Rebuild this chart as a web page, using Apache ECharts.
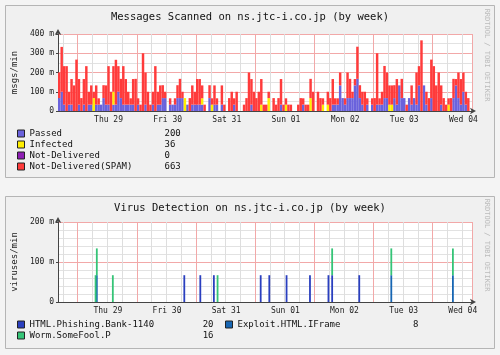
<!DOCTYPE html>
<html>
<head>
<meta charset="utf-8">
<script src="https://cdn.jsdelivr.net/npm/echarts@6/dist/echarts.min.js"></script>
<style>
html, body { margin: 0; padding: 0; background: #f4f4f4; }
#main { width: 500px; height: 355px; }
</style>
</head>
<body>
<div id="main"></div>
<script>
var dayNames = ['Wed 28', 'Thu 29', 'Fri 30', 'Sat 31', 'Sun 01', 'Mon 02', 'Tue 03', 'Wed 04'];
var startHour = 16; // graph starts Wed 28 16:00

// messages scanned, milli msgs/min, one value per hour
var passed = [
  67,100,33,0,33,33,0,0,33,0,  33,0,33,33,0,33,33,33,67,33,
  33,0,33,33,100,67,33,33,33,33,  33,0,33,0,0,33,0,0,33,0,
  33,33,67,67,0,33,33,33,67,67,  67,0,33,0,33,33,33,33,33,0,
  0,67,0,33,33,0,33,0,0,0,  0,33,0,0,0,0,0,0,33,0,
  0,0,0,0,0,0,0,0,0,0,  33,0,0,0,0,0,0,0,0,33,
  0,0,0,0,0,0,0,0,0,0,  0,33,33,33,133,67,33,67,67,67,
  133,167,67,33,0,33,0,33,0,33,  33,33,67,67,0,0,67,33,133,67,
  67,0,67,33,67,33,133,0,133,33,  0,67,0,0,0,33,0,0,0,0,
  67,133,67,33,100,33,0,0
];
var infected = [
  0,0,0,0,0,0,0,0,0,0,  0,0,0,0,67,0,0,0,0,0,
  0,0,67,0,0,0,0,0,0,0,  0,0,0,0,0,0,0,0,0,0,
  0,0,0,0,0,0,0,0,0,0,  0,67,0,0,0,0,0,0,33,0,
  0,0,33,0,0,0,0,0,0,0,  0,0,0,0,0,0,0,0,0,0,
  0,0,33,0,0,67,0,0,0,0,  0,0,33,0,0,0,0,0,0,0,
  0,0,67,0,0,0,0,33,0,33,  0,0,0,0,0,0,0,0,0,0,
  0,0,0,0,0,0,0,0,0,0,  0,0,0,0,33,33,0,0,0,0,
  0,0,0,0,0,0,0,0,0,0,  0,0,0,0,0,0,0,0,33,0,
  0,0,0,0,0,0,0,0
];
var notDelivered = [];
var spam = [
  133,233,200,233,67,133,133,267,133,67,  133,233,67,100,33,100,33,0,67,100,
  200,100,133,233,133,100,200,133,67,33,  133,167,33,33,300,167,100,33,67,233,
  67,100,67,33,0,33,0,33,67,100,  33,0,0,67,100,67,133,133,67,33,
  0,67,33,100,33,0,100,33,0,67,  100,33,100,0,0,33,67,200,133,100,
  67,100,133,33,33,33,0,67,33,67,  133,33,33,33,33,0,0,33,67,33,
  33,33,100,100,0,100,67,33,0,67,  67,133,33,33,67,0,33,133,100,33,
  33,167,67,67,100,33,0,33,67,267,  33,67,167,133,100,100,67,133,0,100,
  0,33,0,100,0,167,100,367,0,67,  67,200,233,133,200,100,67,33,33,67,
  100,33,133,133,100,67,67,0
];
var mailNames = ['Passed', 'Infected', 'Not-Delivered', 'Not-Delivered(SPAM)'];
var mailTotals = [200, 36, 0, 663];

// virus detections, milli viruses/min, [half-hour slot, value]
var phishing = [[102,67],[115,67],[126,67],[164,67],[171,67],[185,67],[204,67],[219,67],[222,67],[244,67]];
var exploit = [[31,67],[270,67],[320,67]];
var worm = [[30,67],[31,67],[44,67],[129,67],[222,67],[270,67],[320,67]];
var virusNames = ['HTML.Phishing.Bank-1140', 'Exploit.HTML.IFrame', 'Worm.SomeFool.P'];
var virusTotals = [20, 8, 16];

var mono = 'DejaVu Sans Mono';

// category labels "day|hour|minute"
var hourCats = [];
for (var i = 0; i < 168; i++) {
  var h = startHour + i;
  hourCats.push(dayNames[Math.floor(h / 24)] + '|' + (h % 24) + '|0');
}
var slotCats = [];
for (var j = 0; j < 336; j++) {
  var m = startHour * 60 + j * 30;
  slotCats.push(dayNames[Math.floor(m / 1440)] + '|' + (Math.floor(m / 60) % 24) + '|' + (m % 60));
}
function part(v, k) { return v.split('|')[k]; }
function expand(events) {
  var a = slotCats.map(function () { return 0; });
  events.forEach(function (e) { a[e[0]] = e[1]; });
  return a;
}

function xAxes(gridIndex, cats) {
  return [{
    type: 'category', gridIndex: gridIndex, data: cats,
    axisLine: { lineStyle: { color: '#444' }, symbol: ['none', 'arrow'], symbolSize: [5, 6], symbolOffset: [0, 4] },
    axisTick: { show: false },
    axisLabel: {
      interval: function (idx, v) { return part(v, 1) === '12' && part(v, 2) === '0'; },
      formatter: function (v) { return part(v, 0); },
      fontFamily: mono, fontSize: 8, color: '#222', margin: 5
    },
    splitLine: {
      show: true,
      interval: function (idx, v) { return +part(v, 1) % 6 === 0 && part(v, 2) === '0'; },
      lineStyle: { color: '#dedede' }
    }
  }, {
    type: 'category', gridIndex: gridIndex, data: cats,
    axisLine: { show: false }, axisTick: { show: false }, axisLabel: { show: false },
    splitLine: {
      show: true,
      interval: function (idx, v) { return part(v, 1) === '0' && part(v, 2) === '0'; },
      lineStyle: { color: '#f2a8a8' }
    }
  }];
}

function yAxis(gridIndex, max, minorSplit, name) {
  return {
    type: 'value', gridIndex: gridIndex, min: 0, max: max, interval: 100,
    name: name, nameLocation: 'middle', nameGap: 37,
    nameTextStyle: { fontFamily: mono, fontSize: 9, color: '#222' },
    axisLine: { show: true, lineStyle: { color: '#444' }, symbol: ['none', 'arrow'], symbolSize: [5, 6], symbolOffset: [0, 5] },
    axisTick: { show: true, length: 2, lineStyle: { color: '#444' } },
    axisLabel: {
      fontFamily: mono, fontSize: 8, color: '#222', margin: 4,
      formatter: function (v) { return v === 0 ? '0' : v + ' m'; }
    },
    splitLine: { lineStyle: { color: '#f2a8a8' } },
    minorTick: { show: false, splitNumber: minorSplit },
    minorSplitLine: { show: true, lineStyle: { color: '#e2e2e2' } }
  };
}

function legendStyle(nameWidth, valueAlign) {
  return {
    fontFamily: mono, fontSize: 9, lineHeight: 11, color: '#111',
    rich: {
      n: { width: nameWidth, fontFamily: mono, fontSize: 9, color: '#111' },
      v: { width: 30, align: valueAlign, fontFamily: mono, fontSize: 9, color: '#111' }
    }
  };
}
var legendBase = {
  orient: 'vertical', itemWidth: 7, itemHeight: 7, itemGap: 0, padding: 0,
  icon: 'rect', selectedMode: false,
  itemStyle: { borderColor: '#222', borderWidth: 1 }
};

var myChart = echarts.init(document.getElementById('main'));
var option = {
  backgroundColor: '#f4f4f4',
  animation: false,
  title: [{
    text: 'Messages Scanned on ns.jtc-i.co.jp (by week)', left: 'center', top: 12, padding: 0,
    textStyle: { fontFamily: mono, fontSize: 10.5, fontWeight: 'normal', color: '#111' }
  }, {
    text: 'Virus Detection on ns.jtc-i.co.jp (by week)', left: 'center', top: 203, padding: 0,
    textStyle: { fontFamily: mono, fontSize: 10.5, fontWeight: 'normal', color: '#111' }
  }],
  graphic: [
    { type: 'rect', z: -1, silent: true, shape: { x: 5.5, y: 5.5, width: 489, height: 172 }, style: { fill: '#f0f0f0', stroke: '#b5b5b5' } },
    { type: 'rect', z: -1, silent: true, shape: { x: 5.5, y: 196.5, width: 489, height: 152 }, style: { fill: '#f0f0f0', stroke: '#b5b5b5' } },
    { type: 'text', silent: true, x: 487, y: 55, rotation: -Math.PI / 2,
      style: { text: 'RRDTOOL / TOBI OETIKER', font: '7px "DejaVu Sans Mono"', fill: '#bbb', align: 'center', verticalAlign: 'middle' } },
    { type: 'text', silent: true, x: 487, y: 245, rotation: -Math.PI / 2,
      style: { text: 'RRDTOOL / TOBI OETIKER', font: '7px "DejaVu Sans Mono"', fill: '#bbb', align: 'center', verticalAlign: 'middle' } }
  ],
  legend: [
    Object.assign({}, legendBase, {
      data: mailNames, left: 17, top: 128,
      textStyle: legendStyle(135, 'left'),
      formatter: function (n) { return '{n|' + n + '}{v|' + mailTotals[mailNames.indexOf(n)] + '}'; }
    }),
    Object.assign({}, legendBase, {
      data: [virusNames[0], virusNames[2]], left: 17, top: 319,
      textStyle: legendStyle(154, 'right'),
      formatter: function (n) { return '{n|' + n + '}{v|' + virusTotals[virusNames.indexOf(n)] + '}'; }
    }),
    Object.assign({}, legendBase, {
      data: [virusNames[1]], left: 225, top: 319,
      textStyle: legendStyle(151, 'right'),
      formatter: function (n) { return '{n|' + n + '}{v|' + virusTotals[virusNames.indexOf(n)] + '}'; }
    })
  ],
  grid: [
    { left: 58, right: 28, top: 34, height: 77, show: true, backgroundColor: '#fff', borderWidth: 0 },
    { left: 58, right: 28, top: 222, height: 80, show: true, backgroundColor: '#fff', borderWidth: 0 }
  ],
  xAxis: xAxes(0, hourCats).concat(xAxes(1, slotCats)),
  yAxis: [yAxis(0, 400, 2, 'msgs/min'), yAxis(1, 200, 5, 'viruses/min')],
  series: [
    { name: 'Passed', type: 'bar', stack: 'mail', xAxisIndex: 0, yAxisIndex: 0, data: passed, itemStyle: { color: '#6a62dc' }, barCategoryGap: '0%' },
    { name: 'Infected', type: 'bar', stack: 'mail', xAxisIndex: 0, yAxisIndex: 0, data: infected, itemStyle: { color: '#ffee00' }, barCategoryGap: '0%' },
    { name: 'Not-Delivered', type: 'bar', stack: 'mail', xAxisIndex: 0, yAxisIndex: 0, data: notDelivered, itemStyle: { color: '#8e1eb4' }, barCategoryGap: '0%' },
    { name: 'Not-Delivered(SPAM)', type: 'bar', stack: 'mail', xAxisIndex: 0, yAxisIndex: 0, data: spam, itemStyle: { color: '#ff3b3b' }, barCategoryGap: '0%' },
    { name: virusNames[0], type: 'bar', stack: 'virus', xAxisIndex: 2, yAxisIndex: 1, data: expand(phishing), itemStyle: { color: '#2a3fbf' }, barCategoryGap: '0%', barMinWidth: 1.8 },
    { name: virusNames[1], type: 'bar', stack: 'virus', xAxisIndex: 2, yAxisIndex: 1, data: expand(exploit), itemStyle: { color: '#1766b3' }, barCategoryGap: '0%', barMinWidth: 1.8 },
    { name: virusNames[2], type: 'bar', stack: 'virus', xAxisIndex: 2, yAxisIndex: 1, data: expand(worm), itemStyle: { color: '#35c477' }, barCategoryGap: '0%', barMinWidth: 1.8 }
  ]
};
myChart.setOption(option);
</script>
</body>
</html>
